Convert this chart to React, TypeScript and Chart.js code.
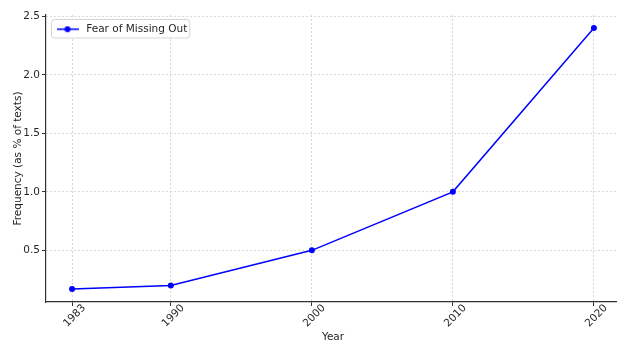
import { useEffect, useRef } from "react";
import { Chart, registerables } from "chart.js";
Chart.register(...registerables);

const years = [1983, 1990, 2000, 2010, 2020];
const fomo = [0.17, 0.2, 0.5, 1.0, 2.4];
const yTicks = [0.5, 1.0, 1.5, 2.0, 2.5];
const seriesLabel = "Fear of Missing Out";
const xTitle = "Year";
const yTitle = "Frequency (as % of texts)";

const BLUE = "#0000ff";
const TEXT = "#262626";
const FS = 10.5;
const LEG_PAD = 8;

function makeLegendIcon() {
  const c = document.createElement("canvas");
  c.width = 22;
  c.height = 8;
  const ctx = c.getContext("2d")!;
  ctx.strokeStyle = BLUE;
  ctx.lineWidth = 1.5;
  ctx.beginPath();
  ctx.moveTo(0, 4);
  ctx.lineTo(22, 4);
  ctx.stroke();
  ctx.fillStyle = BLUE;
  ctx.beginPath();
  ctx.arc(11, 4, 3, 0, Math.PI * 2);
  ctx.fill();
  return c;
}

const legendFrame = {
  id: "legendFrame",
  afterLayout(chart: any) {
    const lg = chart.legend;
    if (!lg) return;
    lg.top = chart.chartArea.top + 1;
    lg.bottom = lg.top + lg.height;
  },
  beforeDraw(chart: any) {
    const lg = chart.legend;
    if (!lg || lg._framed) return;
    const orig = lg.draw.bind(lg);
    lg.draw = function (...args: any[]) {
      const hb = lg.legendHitBoxes && lg.legendHitBoxes[0];
      if (hb) {
        const ctx = chart.ctx;
        const ix = lg.left + LEG_PAD;
        const iy = lg.top + LEG_PAD;
        ctx.save();
        ctx.beginPath();
        (ctx as any).roundRect(ix - 2.5, iy - 4.5, hb.width + 5, hb.height + 8, 3);
        ctx.fillStyle = "rgba(255,255,255,0.85)";
        ctx.fill();
        ctx.strokeStyle = "#d5d5d5";
        ctx.lineWidth = 1;
        ctx.stroke();
        ctx.restore();
      }
      orig(...args);
    };
    lg._framed = true;
  },
};

export default function App() {
  const ref = useRef<HTMLCanvasElement | null>(null);
  useEffect(() => {
    document.body.style.margin = "0";
    Chart.defaults.font.family = "DejaVu Sans";
    const xmin = Math.min(...years), xmax = Math.max(...years);
    const ymin = Math.min(...fomo), ymax = Math.max(...fomo);
    const xm = (xmax - xmin) * 0.05, ym = (ymax - ymin) * 0.05;
    const icon = makeLegendIcon();
    const chart = new Chart(ref.current!, {
      type: "line",
      data: {
        datasets: [
          {
            label: seriesLabel,
            data: years.map((y, i) => ({ x: y, y: fomo[i] })),
            borderColor: BLUE,
            backgroundColor: BLUE,
            borderWidth: 1.5,
            pointRadius: 3,
            pointBorderWidth: 0,
            pointStyle: "circle",
            tension: 0,
          },
        ],
      },
      options: {
        animation: false,
        responsive: false,
        layout: { padding: { top: 15, left: 1, right: 0, bottom: 0 } },
        plugins: {
          legend: {
            position: "chartArea" as any,
            align: "start",
            labels: {
              usePointStyle: true,
              pointStyleWidth: 27,
              padding: LEG_PAD,
              color: TEXT,
              font: { size: FS },
              generateLabels: (c: any) =>
                c.data.datasets.map((d: any, i: number) => ({
                  text: d.label,
                  pointStyle: icon,
                  fillStyle: BLUE,
                  strokeStyle: BLUE,
                  lineWidth: 0,
                  hidden: false,
                  datasetIndex: i,
                  fontColor: TEXT,
                })),
            },
          },
          tooltip: { enabled: false },
        },
        scales: {
          x: {
            type: "linear",
            min: xmin - xm,
            max: xmax + xm,
            afterBuildTicks: (s: any) => {
              s.ticks = years.map((v) => ({ value: v }));
            },
            afterFit: (s: any) => {
              s.height = 42;
              s.paddingLeft = 0;
              s.paddingRight = 0;
            },
            ticks: {
              autoSkip: false,
              minRotation: 45,
              maxRotation: 45,
              color: TEXT,
              font: { size: FS },
              padding: -4,
              labelOffset: 12,
              callback: (v: any) => String(v),
            },
            grid: {
              color: "#cfcfcf",
              lineWidth: 0.8,
              tickLength: 4,
              tickColor: "#333",
              tickWidth: 1,
              tickBorderDash: [],
            },
            border: { color: "#333", width: 1.2, dash: [2, 2] },
            title: {
              display: true,
              text: xTitle,
              color: TEXT,
              font: { size: FS },
              padding: { top: 0, bottom: 0 },
            },
          },
          y: {
            type: "linear",
            min: ymin - ym,
            max: ymax + ym,
            afterBuildTicks: (s: any) => {
              s.ticks = yTicks.map((v) => ({ value: v }));
            },
            afterFit: (s: any) => {
              s.width = 45;
            },
            ticks: {
              color: TEXT,
              font: { size: FS },
              padding: 2,
              callback: (v: any) => Number(v).toFixed(1),
            },
            grid: {
              color: "#cfcfcf",
              lineWidth: 0.8,
              tickLength: 4,
              tickColor: "#333",
              tickWidth: 1,
              tickBorderDash: [],
            },
            border: { color: "#333", width: 1.2, dash: [2, 2] },
            title: {
              display: true,
              text: yTitle,
              color: TEXT,
              font: { size: FS },
              padding: { top: 11, bottom: 0 },
            },
          },
        },
      },
      plugins: [legendFrame],
    });
    return () => chart.destroy();
  }, []);
  return (
    <div style={{ width: 617, height: 344, overflow: "hidden", position: "relative" }}>
      <canvas ref={ref} width={624} height={344} style={{ display: "block" }} />
    </div>
  );
}
